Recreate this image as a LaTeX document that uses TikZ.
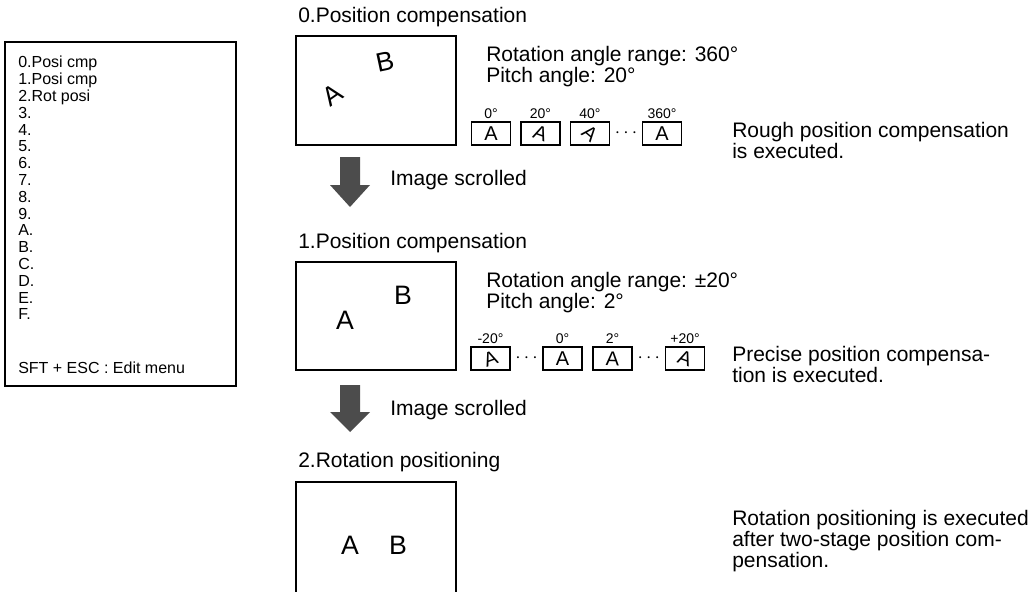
\documentclass[tikz,border=0pt]{standalone}
\usepackage{fontspec}
\setmainfont{Liberation Sans}
\usetikzlibrary{positioning,calc}

\begin{document}
\begin{tikzpicture}[
  x=0.75pt, y=-0.75pt,
  txt/.style={anchor=west, inner sep=0pt, align=left,
    font=\fontsize{15.75}{15.75}\selectfont},
  menutxt/.style={anchor=north west, inner sep=0pt, align=left,
    font=\fontsize{12}{12.6}\selectfont},
  screen/.style={draw, line width=1.2pt, minimum width=120pt,
    minimum height=81.75pt, inner sep=0pt},
  letter/.style={inner sep=0pt, font=\fontsize{20}{20}\selectfont},
  tmpl/.style={draw, line width=0.9pt, minimum width=29.25pt,
    minimum height=17.25pt, inner sep=0pt, font=\fontsize{15}{15}\selectfont},
  ang/.style={inner sep=0pt, font=\fontsize{10.5}{10.5}\selectfont},
  dots/.style={inner sep=0pt, font=\fontsize{15}{15}\selectfont},
  scroll/.style={fill=black!70}
]
  \useasboundingbox (0,0) rectangle (1036,592);

  % menu screen
  \node[draw, line width=0.8pt, minimum width=173.25pt, minimum height=258pt,
    inner sep=0pt] (menu) at (120.5,214) {};
  \node[menutxt] (menulist) at (18,56) {0.Posi cmp\\1.Posi cmp\\2.Rot posi\\3.\\4.\\5.\\6.\\7.\\8.\\9.\\A.\\B.\\C.\\D.\\E.\\F.};
  \node[menutxt, anchor=west] (menuhelp) at (18,368) {SFT + ESC : Edit menu};

  % stage 0
  \node[txt] (title0) at (298,17) {0.Position compensation};
  \node[screen] (scr0) at (376,90.5) {};
  \node[letter, rotate=35] (scr0a) at (333,95) {A};
  \node[letter, rotate=12] (scr0b) at (385,62) {B};
  \node[txt] (range0) at (486,56) {Rotation angle range: 360°};
  \node[txt] (pitch0) at (486,77) {Pitch angle: 20°};
  \node[tmpl] (m00) at (491,133.5) {A};
  \node[tmpl] (m01) at (540.5,133.5) {\rotatebox{-20}{A}};
  \node[tmpl] (m02) at (590,133.5) {\rotatebox{-40}{A}};
  \node[tmpl] (m03) at (662,133.5) {A};
  \node[ang, above=2pt of m00] (g00) {0°};
  \node[ang, above=2pt of m01] (g01) {20°};
  \node[ang, above=2pt of m02] (g02) {40°};
  \node[ang, above=2pt of m03] (g03) {360°};
  \node[dots] (dots0) at ($(m02.east)!0.5!(m03.west)$) {$\cdots$};
  \node[txt] (note0) at (732,140.5) {Rough position compensation\\is executed.};

  % scroll 1
  \coordinate (arr0) at (350,157);
  \fill[scroll] (arr0) ++(-10,0) -- ++(0,28) -- ++(-10,0) -- ++(20,22)
    -- ++(20,-22) -- ++(-10,0) -- ++(0,-28) -- cycle;
  \node[txt] (scroll0) at (390,180) {Image scrolled};

  % stage 1
  \node[txt] (title1) at (298,243) {1.Position compensation};
  \node[screen, minimum height=81pt] (scr1) at (376,316) {};
  \node[letter] (scr1a) at (345,320) {A};
  \node[letter] (scr1b) at (403,295) {B};
  \node[txt] (range1) at (486,282) {Rotation angle range: ±20°};
  \node[txt] (pitch1) at (486,303) {Pitch angle: 2°};
  \node[tmpl] (m10) at (490.5,358.5) {\rotatebox{20}{A}};
  \node[tmpl] (m11) at (562.5,358.5) {A};
  \node[tmpl] (m12) at (612.5,358.5) {\rotatebox{-2}{A}};
  \node[tmpl] (m13) at (685,358.5) {\rotatebox{-20}{A}};
  \node[ang, above=2pt of m10] (g10) {-20°};
  \node[ang, above=2pt of m11] (g11) {0°};
  \node[ang, above=2pt of m12] (g12) {2°};
  \node[ang, above=2pt of m13] (g13) {+20°};
  \node[dots] (dots1a) at ($(m10.east)!0.5!(m11.west)$) {$\cdots$};
  \node[dots] (dots1b) at ($(m12.east)!0.5!(m13.west)$) {$\cdots$};
  \node[txt] (note1) at (732,364.5) {Precise position compensa-\\tion is executed.};

  % scroll 2
  \coordinate (arr1) at (350,385);
  \fill[scroll] (arr1) ++(-10,0) -- ++(0,27) -- ++(-10,0) -- ++(20,20)
    -- ++(20,-20) -- ++(-10,0) -- ++(0,-27) -- cycle;
  \node[txt] (scroll1) at (390,410) {Image scrolled};

  % stage 2
  \node[txt] (title2) at (298,462) {2.Rotation positioning};
  \coordinate (scr2sw) at (296,592);
  \coordinate (scr2se) at (456,592);
  \draw[line width=1.2pt] (scr2sw) |- (456,482) -- (scr2se);
  \node[letter] (scr2a) at (350,545) {A};
  \node[letter] (scr2b) at (398,545) {B};
  \node[txt] (note2) at (732,541) {Rotation positioning is executed\\after two-stage position com-\\pensation.};
\end{tikzpicture}
\end{document}
